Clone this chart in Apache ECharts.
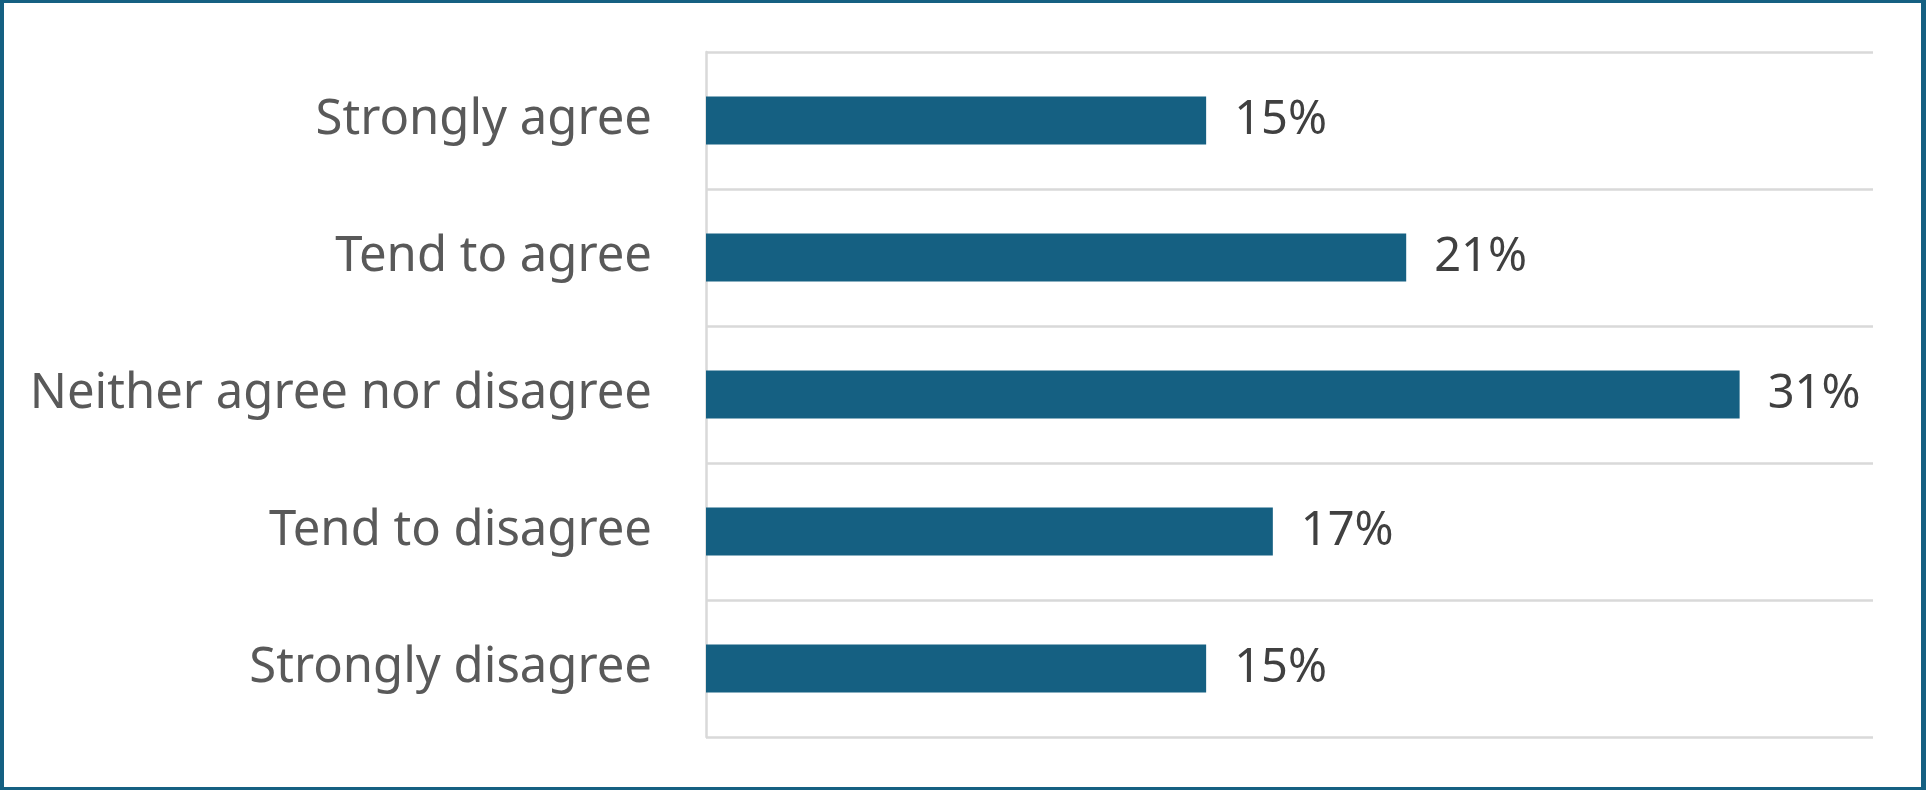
<!DOCTYPE html>
<html>
	<head>
		<meta charset="utf-8">
		<title>Agreement</title>
		<style>
			html, body {
				width: 100%;
				height: 100%;
				margin: 0;
				padding: 0;
				background: #ffffff;
			}

			#main {
				position: absolute;
				left: 0;
				top: 0;
				width: 1926px;
				height: 790px;
			}

			#frame {
				position: absolute;
				left: 0;
				top: 0;
				width: 1926px;
				height: 790px;
				box-sizing: border-box;
				border-style: solid;
				border-color: #156082;
				border-width: 3px 5px 3px 4px;
				pointer-events: none;
			}
		</style>
	</head>
	<body>
		<div id="main"></div>
		<div id="frame"></div>
		<script src="https://cdn.jsdelivr.net/npm/echarts@6/dist/echarts.min.js"></script>
		<script>
			var categories = ['Strongly agree', 'Tend to agree', 'Neither agree nor disagree', 'Tend to disagree', 'Strongly disagree'];
			var values = [15, 21, 31, 17, 15];
			var axisMax = 35;

			var chart = echarts.init(document.getElementById('main'), null, {renderer: 'canvas'});
			chart.setOption({
				animation: false,
				grid: {
					left: 706,
					right: 53,
					top: 52,
					bottom: 53
				},
				xAxis: {
					type: 'value',
					min: 0,
					max: axisMax,
					axisLine: {show: false},
					axisTick: {show: false},
					axisLabel: {show: false},
					splitLine: {show: false}
				},
				yAxis: {
					type: 'category',
					data: categories,
					inverse: true,
					axisLine: {
						show: true,
						lineStyle: {color: '#D9D9D9', width: 2.5}
					},
					axisTick: {show: false},
					axisLabel: {
						margin: 54,
						color: '#595959',
						fontFamily: 'Noto Sans',
						fontSize: 49
					},
					splitLine: {
						show: true,
						lineStyle: {color: '#D9D9D9', width: 2.5}
					}
				},
				series: [{
					type: 'bar',
					data: values,
					barWidth: '35%',
					itemStyle: {color: '#156082'},
					label: {
						show: true,
						position: 'right',
						distance: 28,
						color: '#404040',
						fontFamily: 'Noto Sans',
						fontSize: 47,
						formatter: function(p) {
							return p.value + '%';
						}
					}
				}]
			});
		</script>
	</body>
</html>
